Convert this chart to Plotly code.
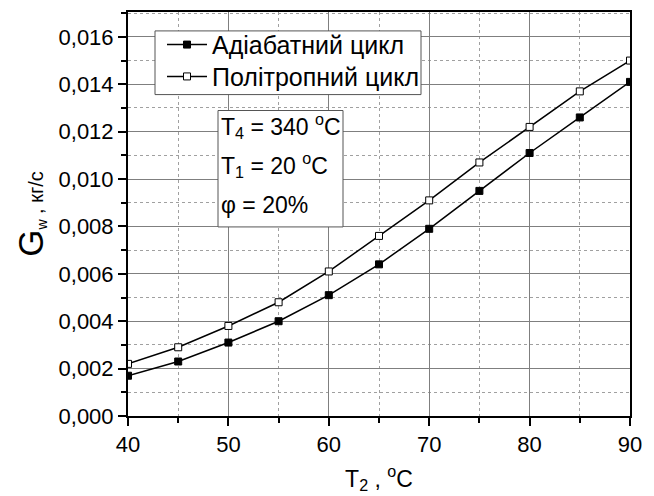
import plotly.graph_objects as go

t2 = [40, 45, 50, 55, 60, 65, 70, 75, 80, 85, 90]
g_adiabatic = [0.0017, 0.0023, 0.0031, 0.0040, 0.0051, 0.0064, 0.0079, 0.0095, 0.0111, 0.0126, 0.0141]
g_polytropic = [0.0022, 0.0029, 0.0038, 0.0048, 0.0061, 0.0076, 0.0091, 0.0107, 0.0122, 0.0137, 0.0150]
names = ["Адіабатний цикл", "Політропний цикл"]
y_ticks = [0.000, 0.002, 0.004, 0.006, 0.008, 0.010, 0.012, 0.014, 0.016]
y_ticktext = ["0,000", "0,002", "0,004", "0,006", "0,008", "0,010", "0,012", "0,014", "0,016"]
x_ticks = [40, 50, 60, 70, 80, 90]

FONT = "Liberation Sans, Arial, sans-serif"

# plot area in page pixels (page has an 8px body margin)
PL, PR, PT, PB = 128, 630, 10, 416
def px(x):
    return (x - PL) / (PR - PL)
def py(y):
    return (PB - y) / (PB - PT)

fig = go.Figure()
fig.add_trace(go.Scatter(
    x=t2, y=g_adiabatic, name=names[0], mode="lines+markers", legend="legend",
    line=dict(color="black", width=1.5),
    marker=dict(symbol="square", size=7, color="black", line=dict(color="black", width=1)),
))
fig.add_trace(go.Scatter(
    x=t2, y=g_polytropic, name=names[1], mode="lines+markers", legend="legend2",
    line=dict(color="black", width=1.5),
    marker=dict(symbol="square", size=7, color="white", line=dict(color="black", width=1)),
))

axis_common = dict(
    showline=True, linecolor="black", linewidth=2, mirror=True,
    ticks="outside", ticklen=8, tickwidth=1.5, tickcolor="black",
    showgrid=True, gridcolor="#7f7f7f", gridwidth=1,
    zeroline=False,
    tickfont=dict(family=FONT, size=22, color="black"),
)

fig.update_xaxes(
    range=[40, 90], tickvals=x_ticks,
    minor=dict(dtick=5, tick0=40, ticks="outside", ticklen=5, tickcolor="black",
               showgrid=True, gridcolor="#a0a0a0", griddash="dot", gridwidth=1),
    title=dict(text="T<sub>2</sub> , <sup>o</sup>C", font=dict(family=FONT, size=23, color="black"), standoff=14),
    **axis_common,
)
fig.update_yaxes(
    range=[0, 0.01705], tickvals=y_ticks, ticktext=y_ticktext,
    minor=dict(dtick=0.001, tick0=0, ticks="outside", ticklen=5, tickcolor="black",
               showgrid=True, gridcolor="#a0a0a0", griddash="dot", gridwidth=1),
    title=dict(text="<span style='font-size:35px'>G</span><sub>w</sub> , кг/с",
               font=dict(family=FONT, size=20, color="black"), standoff=10),
    **axis_common,
)

leg_common = dict(
    xanchor="left", yanchor="middle",
    bgcolor="rgba(0,0,0,0)", borderwidth=0,
    font=dict(family=FONT, size=25, color="black"),
    itemwidth=40,
)

fig.update_layout(
    width=646, height=488,
    margin=dict(l=120, r=24, t=2, b=80),
    paper_bgcolor="white", plot_bgcolor="white",
    font=dict(family=FONT, color="black"),
    legend=dict(x=px(162), y=py(43), **leg_common),
    legend2=dict(x=px(162), y=py(75), **leg_common),
    showlegend=True,
)

# legend frame
fig.add_shape(type="rect", xref="paper", yref="paper",
              x0=px(155), x1=px(421), y0=py(93), y1=py(29),
              line=dict(color="#555", width=1), fillcolor="white", layer="above")

# parameters box
fig.add_shape(type="rect", xref="paper", yref="paper",
              x0=px(218), x1=px(343), y0=py(226), y1=py(109),
              line=dict(color="#555", width=1), fillcolor="white", layer="above")
box_lines = ["T<sub>4</sub> = 340 <sup>o</sup>C", "T<sub>1</sub> = 20 <sup>o</sup>C", "φ = 20%"]
box_y = [125, 164, 204]
for txt, yy in zip(box_lines, box_y):
    fig.add_annotation(xref="paper", yref="paper", x=px(219), y=py(yy),
                       xanchor="left", yanchor="middle", text=txt, showarrow=False,
                       font=dict(family=FONT, size=23, color="black"))

fig.write_html("out.html")
